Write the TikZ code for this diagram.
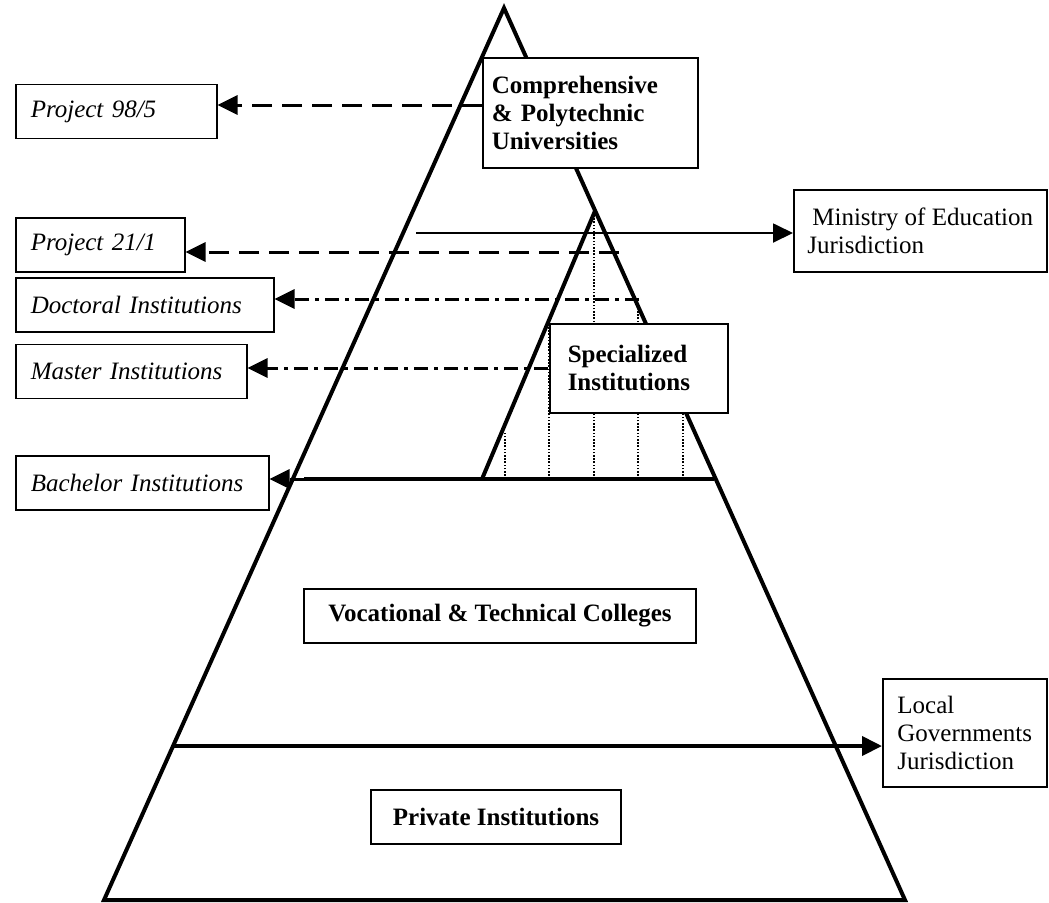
\documentclass[tikz,border=0pt]{standalone}
\usepackage{fontspec}
\setmainfont{Liberation Serif}
\usetikzlibrary{arrows.meta}

\begin{document}
\begin{tikzpicture}[x=0.5pt, y=-0.5pt,
    font=\fontsize{12.5}{14}\selectfont,
    box/.style={draw, line width=0.75pt, fill=white, inner ysep=0pt},
    side/.style={box, font=\fontsize{12.5}{14}\selectfont\itshape, anchor=west, align=left, inner xsep=7.5pt, minimum height=27pt},
    level/.style={box, font=\fontsize{12.5}{14}\selectfont\bfseries, align=left},
    juris/.style={box, align=left, anchor=north west},
    pyr/.style={line width=2pt, line join=miter},
    tip/.style={-{Triangle[length=10pt, width=9.5pt]}},
    dashline/.style={tip, line width=1.5pt, dash pattern=on 10pt off 5pt},
    dashdot/.style={tip, line width=1.5pt, dash pattern=on 7pt off 3pt on 2pt off 3pt}]
    \useasboundingbox (0,0) rectangle (1049,902);
    \draw [pyr] (504,8) -- (905,900) -- (104,900) -- cycle;   %Pyramide
    \draw [pyr] (482,479) -- (595,211);                       %Spezial-Dreieck
    \coordinate (b0) at (304,479);
    \coordinate (b1) at (714,479);
    \draw [line width=2pt] (b0) -- (b1);                      %Bachelor-Linie
    \foreach \x/\y in {505/432, 549/320, 594/211, 638/306, 683/406}
        \draw [line width=0.6pt, dash pattern=on 0.8pt off 0.8pt] (\x,479) -- (\x,\y);

    % Knoten
    \node [side, text width=85.5pt] (p98) at (15,111.5) {Project 98/5};
    \node [side, text width=69.5pt] (p21) at (15,245) {Project 21/1};
    \node [side, text width=114pt] (doc) at (15,305) {Doctoral Institutions};
    \node [side, text width=100.5pt] (mas) at (15,371.5) {Master Institutions};
    \node [side, text width=111.5pt] (bac) at (15,483) {Bachelor Institutions};
    \node [level, anchor=north west, inner xsep=4.5pt, text width=98.5pt, minimum height=55pt] (comp) at (482,57)
        {Comprehensive\\\& Polytechnic\\Universities};
    \node [level, anchor=north west, inner xsep=9pt, text width=71pt, minimum height=44.5pt] (spec) at (549,323)
        {Specialized\\Institutions};
    \node [level, minimum width=196pt, minimum height=27pt] (voc) at (500,616) {Vocational \& Technical Colleges};
    \node [level, minimum width=125pt, minimum height=27pt] (priv) at (496,817) {Private Institutions};
    \node [juris, minimum width=126.5pt, minimum height=41pt] (min) at (793,189)
        {\hspace{2.5pt}Ministry of Education\\Jurisdiction};
    \node [juris, minimum width=82pt, minimum height=54pt] (loc) at (882,678)
        {Local\\Governments\\Jurisdiction};

    % Pfeile
    \coordinate (a98) at (482,105);
    \draw [dashline] (a98) -- (a98 -| p98.east);
    \coordinate (a21) at (619,252);
    \draw [dashline] (a21) -- (a21 -| p21.east);
    \coordinate (adoc) at (639,299);
    \draw [dashdot] (adoc) -- (adoc -| doc.east);
    \coordinate (amas) at (548,368);
    \draw [dashdot] (amas) -- (amas -| mas.east);
    \draw [dashdot] (b0) -- (b0 -| bac.east);
    \coordinate (m0) at (416,233);
    \draw [tip, line width=0.9pt] (m0) -- (m0 -| min.west);   %Ministerium
    \coordinate (l0) at (173,746);
    \draw [tip, line width=2pt] (l0) -- (l0 -| loc.west);     %Lokal
\end{tikzpicture}
\end{document}
